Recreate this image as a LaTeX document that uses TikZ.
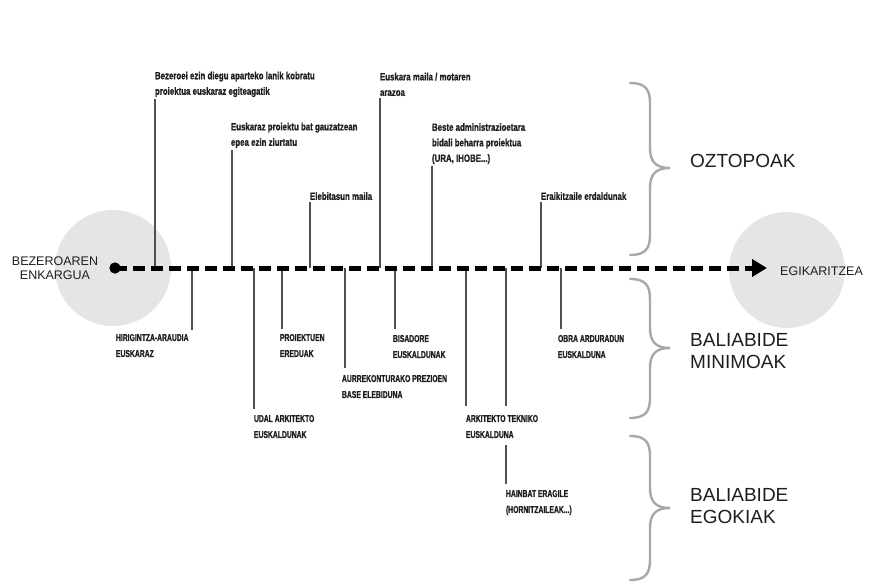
\documentclass[tikz,border=0pt]{standalone}
\usepackage{fontspec}
\setmainfont{Liberation Sans}
\newfontfamily\notefont[FakeStretch=0.75,FakeBold=1]{Liberation Sans Bold}
\newfontfamily\capnotefont[FakeStretch=0.68,FakeBold=1]{Liberation Sans Bold}
\usetikzlibrary{arrows.meta}

\definecolor{halo}{HTML}{E5E5E5}
\definecolor{bracegray}{HTML}{A8A8A8}
\definecolor{stemgray}{HTML}{505050}
\definecolor{ink}{HTML}{1E1E1E}

\begin{document}
\begin{tikzpicture}[x=1pt,y=-1pt,
  stem/.style={draw=stemgray,line width=1.1pt},
  toplabel/.style={anchor=south west,inner sep=0pt,outer sep=0pt,align=left,
    font=\notefont\fontsize{10.5}{15.5}\selectfont,text=ink},
  botlabel/.style={anchor=north west,inner sep=0pt,outer sep=0pt,align=left,
    font=\capnotefont\fontsize{10}{16}\selectfont,text=ink},
  bigcap/.style={anchor=west,inner sep=0pt,align=left,
    font=\fontsize{19}{22}\selectfont,text=ink},
  endcap/.style={inner sep=0pt,font=\fontsize{12.5}{14}\selectfont,text=ink},
  gbrace/.style={draw=bracegray,line width=2.4pt,line cap=round},
  haloball/.style={circle,fill=halo,minimum size=116pt,inner sep=0pt}
]
\useasboundingbox (0,0) rectangle (877,588);

% soft discs behind both ends of the timeline
\node[haloball] (hstart) at (113,268) {};
\node[haloball] (hend)   at (787,270) {};

% ends of the timeline
\node[circle,fill=black,minimum size=11pt,inner sep=0pt] (start) at (115,268) {};
\coordinate (finish) at (767,268);
\node[endcap,align=center] (client) at (55,268) {BEZEROAREN\\ENKARGUA};
\node[endcap,anchor=west] (exec) at (780,271) {EGIKARITZEA};

% tick points along the line: above (t) and below (b)
\coordinate (t1) at (155,268);
\coordinate (t2) at (232,268);
\coordinate (t3) at (310,268);
\coordinate (t4) at (380,268);
\coordinate (t5) at (432,268);
\coordinate (t6) at (541,268);
\coordinate (b1) at (192,268);
\coordinate (b2) at (254,268);
\coordinate (b3) at (282,268);
\coordinate (b4) at (345,268);
\coordinate (b5) at (395,268);
\coordinate (b6) at (466,268);
\coordinate (b7) at (506,268);
\coordinate (b8) at (561,268);

% obstacles above the line
\node[toplabel] (o1) at (155,97) {Bezeroei ezin diegu aparteko lanik kobratu\\proiektua euskaraz egiteagatik};
\node[toplabel] (o2) at (231,148) {Euskaraz proiektu bat gauzatzean\\epea ezin ziurtatu};
\node[toplabel] (o3) at (310,200) {Elebitasun maila};
\node[toplabel] (o4) at (380,96) {Euskara maila / motaren\\arazoa};
\node[toplabel] (o5) at (432,164) {Beste administrazioetara\\bidali beharra proiektua\\(URA, IHOBE...)};
\node[toplabel] (o6) at (541,200) {Eraikitzaile erdaldunak};

% resources below the line
\node[botlabel] (r1) at (116,334) {HIRIGINTZA-ARAUDIA\\EUSKARAZ};
\node[botlabel] (r2) at (254,415) {UDAL ARKITEKTO\\EUSKALDUNAK};
\node[botlabel] (r3) at (280,334) {PROIEKTUEN\\EREDUAK};
\node[botlabel] (r4) at (342,375) {AURREKONTURAKO PREZIOEN\\BASE ELEBIDUNA};
\node[botlabel] (r5) at (393,335) {BISADORE\\EUSKALDUNAK};
\node[botlabel] (r6) at (466,415) {ARKITEKTO TEKNIKO\\EUSKALDUNA};
\node[botlabel] (r7) at (506,490) {HAINBAT ERAGILE\\(HORNITZAILEAK...)};
\node[botlabel] (r8) at (558,335) {OBRA ARDURADUN\\EUSKALDUNA};

% stems
\foreach \k in {1,...,6}
  \draw[stem,shorten <=2pt] (t\k |- o\k.south) -- (t\k);
\draw[stem,shorten >=4pt] (b1) -- (b1 |- r1.north);
\draw[stem,shorten >=6pt] (b2) -- (b2 |- r2.north);
\draw[stem,shorten >=5pt] (b3) -- (b3 |- r3.north);
\draw[stem,shorten >=7pt] (b4) -- (b4 |- r4.north);
\draw[stem,shorten >=6pt] (b5) -- (b5 |- r5.north);
\draw[stem,shorten >=9pt] (b6) -- (b6 |- r6.north);
\draw[stem,shorten >=9pt] (b7) -- (b7 |- r6.north);
\draw[stem,shorten <=7pt,shorten >=6pt] (b7 |- r6.south) -- (b7 |- r7.north);
\draw[stem,shorten >=6pt] (b8) -- (b8 |- r8.north);

% the timeline itself
\draw[line width=5pt,dash pattern=on 12pt off 6pt,
      -{Triangle[length=15pt,width=17pt]}] (start.center) -- (finish);
\fill (start) circle (5.5pt);

% grouping braces
\draw[gbrace] (630,83) .. controls (645,83) and (650,89) .. (650,103)
  -- (650,148) .. controls (650,162) and (656,168) .. (670,168)
  .. controls (656,168) and (650,174) .. (650,188)
  -- (650,235) .. controls (650,249) and (645,255) .. (630,255);
\draw[gbrace] (630,279) .. controls (645,279) and (650,285) .. (650,299)
  -- (650,328) .. controls (650,342) and (656,348) .. (670,348)
  .. controls (656,348) and (650,354) .. (650,368)
  -- (650,398) .. controls (650,412) and (645,418) .. (630,418);
\draw[gbrace] (630,436) .. controls (645,436) and (650,442) .. (650,456)
  -- (650,488) .. controls (650,502) and (656,508) .. (670,508)
  .. controls (656,508) and (650,514) .. (650,528)
  -- (650,560) .. controls (650,574) and (645,580) .. (630,580);

\node[bigcap] (obst) at (690,161) {OZTOPOAK};
\node[bigcap] (minres) at (690,351) {BALIABIDE\\MINIMOAK};
\node[bigcap] (goodres) at (690,506) {BALIABIDE\\EGOKIAK};
\end{tikzpicture}
\end{document}
